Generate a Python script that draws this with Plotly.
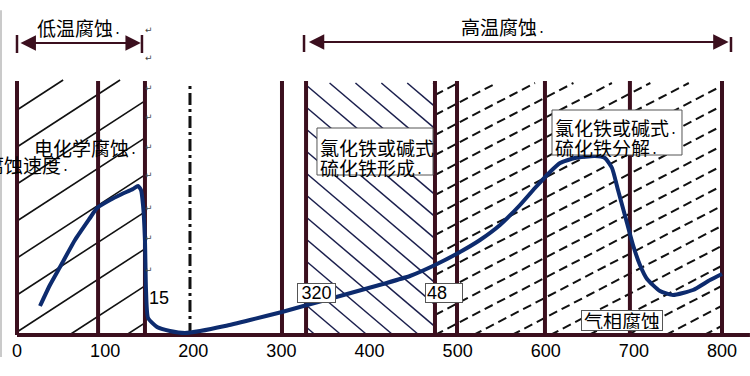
import math
import plotly.graph_objects as go

# ---------------- data ----------------
curve_temp = [26.1, 37.4, 48.8, 65.8, 82.8, 90.8, 105.5, 119.1, 131.6, 137.3, 140.7, 143.0,
              145.2, 146.4, 148.7, 158.9, 173.6, 190.6, 207.7, 236.0, 264.4, 300.7, 329.1,
              366.5, 415.3, 445.9, 474.3, 502.7, 525.4, 548.1, 570.8, 587.8, 604.8, 616.2,
              633.2, 655.9, 667.2, 675.2, 682.0, 692.2, 699.0, 706.9, 714.9, 729.6, 744.4,
              767.1, 786.4, 800.0]
curve_rate = [29, 50, 68, 95, 117, 127, 135, 141, 146, 149, 145, 130,
              95, 45, 17, 8, 4, 2, 4, 9, 15, 23, 30,
              39, 51, 59, 70, 83, 95, 110, 130, 147, 163, 172,
              177, 179, 177, 167, 145, 112, 90, 70, 56, 44, 40,
              45, 55, 61]

tick_vals = [0, 100, 200, 300, 400, 500, 600, 700, 800]
tick_text = ["0", "100", "200", "300", "400", "500", "600", "700", "800"]

solid_bounds = [0, 92, 145.2, 300.7, 328, 474.3, 499.3, 599.1, 695.5, 800]
dashdot_bounds = [196.3]

# ---------------- styles ----------------
MAROON = "#3b0f1e"
NAVY = "#0d2b6e"
CJK = "Noto Sans CJK SC"
NUM = "Liberation Sans"
PXU = 0.88125  # px per temperature unit
DOT = '<span style="font-size:9px">·</span>'


def hatch(x0, x1, y0, y1, m_px, spacing, c_start):
    m = m_px * PXU
    xs, ys = [], []
    if m > 0:
        cmin, cmax = y0 - m * (x1 - x0), y1
    else:
        cmin, cmax = y0, y1 - m * (x1 - x0)
    k0 = math.ceil((cmin - c_start) / spacing)
    k1 = math.floor((cmax - c_start) / spacing)
    for k in range(k0, k1 + 1):
        c = c_start + k * spacing
        xa = x0 + (y0 - c) / m
        xb = x0 + (y1 - c) / m
        lo = max(x0, min(xa, xb))
        hi = min(x1, max(xa, xb))
        if hi - lo < 0.5:
            continue
        xs += [lo, hi, None]
        ys += [c + m * (lo - x0), c + m * (hi - x0), None]
    return xs, ys


fig = go.Figure()

# hatch regions
hx, hy = hatch(0, 145.2, 0, 255, 0.65, 37, 225)
fig.add_trace(go.Scatter(x=hx, y=hy, mode="lines", line=dict(color="#111111", width=1.6),
                         hoverinfo="skip"))
hx, hy = hatch(328, 474.3, 0, 252, -0.85, 22, 118)
fig.add_trace(go.Scatter(x=hx, y=hy, mode="lines", line=dict(color="#1b1f4d", width=1.5),
                         hoverinfo="skip"))
hx, hy = hatch(474.3, 800, 0, 252, 0.52, 20, 0)
fig.add_trace(go.Scatter(x=hx, y=hy, mode="lines",
                         line=dict(color="#111111", width=2, dash="9px,5px"),
                         hoverinfo="skip"))

# vertical boundary lines
vx, vy = [], []
for b in solid_bounds:
    vx += [b, b, None]
    vy += [0, 254, None]
fig.add_trace(go.Scatter(x=vx, y=vy, mode="lines", line=dict(color=MAROON, width=4),
                         hoverinfo="skip"))
dx, dy = [], []
for b in dashdot_bounds:
    dx += [b, b, None]
    dy += [0, 250, None]
fig.add_trace(go.Scatter(x=dx, y=dy, mode="lines",
                         line=dict(color="#111111", width=3, dash="12px,4px,3px,4px"),
                         hoverinfo="skip"))

# baseline
fig.add_trace(go.Scatter(x=[0, 831.7], y=[0, 0], mode="lines",
                         line=dict(color=MAROON, width=4), hoverinfo="skip"))

# corrosion curve
fig.add_trace(go.Scatter(x=curve_temp, y=curve_rate, mode="lines",
                         line=dict(color=NAVY, width=4, shape="spline", smoothing=0.5),
                         hoverinfo="skip"))

ann = []


def text(x, y, s, size=19, family=CJK, **kw):
    d = dict(x=x, y=y, xref="x", yref="y", text=s, showarrow=False,
             font=dict(family=family, size=size, color="#000000"))
    d.update(kw)
    ann.append(d)


# top labels and arrows
text(70.4, 308, "低温腐蚀" + DOT)
text(552.6, 309, "高温腐蚀" + DOT)
for (xa, xb, yy) in [(2.3, 140.5, 292), (329.5, 807.5, 293)]:
    ann.append(dict(x=xb, y=yy, ax=xa, ay=yy, xref="x", yref="y", axref="x", ayref="y",
                    text="", showarrow=True, arrowhead=2, arrowside="end+start",
                    arrowsize=1.4, arrowwidth=2.2, arrowcolor=MAROON))

# side labels
text(78.3, 188, "电化学腐蚀" + DOT, height=21)
text(62.0, 171, "腐蚀速度" + DOT, xanchor="right", height=21)
text(161.1, 37, "15", size=18, family=NUM)

# boxed labels (multi-line boxes drawn as rectangles + separate lines)
shapes = []
for (x0, x1, y0, y1) in [(340.4, 472.1, 160, 207), (607.1, 754.6, 180, 225)]:
    shapes.append(dict(type="rect", xref="x", yref="y", x0=x0, x1=x1, y0=y0, y1=y1,
                       fillcolor="#ffffff", line=dict(color="#555555", width=1), layer="above"))
text(341.6, 188, "氯化铁或碱式", xanchor="left", height=20)
text(341.6, 168, "硫化铁形成" + DOT, xanchor="left", height=20)
text(608.2, 208, "氯化铁或碱式" + DOT, xanchor="left", height=20)
text(608.2, 188, "硫化铁分解" + DOT, xanchor="left", height=20)

box = dict(bgcolor="#ffffff", bordercolor="#555555", borderwidth=1, borderpad=1)
text(339.3, 42, "320", size=18, family=NUM, width=35, height=16, **box)
text(484.0, 42, "48", size=18, family=NUM, align="left", width=34, height=16, **box)
text(687.0, 15, "气相腐蚀", size=19, width=78, height=17, **box)

# word paragraph marks along the 150 line
for py in [30, 58, 88, 117, 147, 175, 208, 238, 270]:
    ann.append(dict(x=149.5, y=335 - py, xref="x", yref="y", text="↵", showarrow=False,
                    font=dict(family="DejaVu Sans", size=9, color="#444444")))

# arrow end bars
for (xx, y0, y1) in [(0, 282, 300), (141.8, 282, 300), (325.7, 283, 300), (810.2, 283, 298)]:
    shapes.append(dict(type="line", xref="x", yref="y", x0=xx, x1=xx, y0=y0, y1=y1,
                       line=dict(color=MAROON, width=2.5)))
# gray image border at left
shapes.append(dict(type="line", xref="paper", yref="paper", x0=-0.0149, x1=-0.0149,
                   y0=0.97, y1=-0.056, line=dict(color="#b8b8b8", width=1.5)))

fig.update_layout(
    width=750, height=376,
    margin=dict(l=12, r=0, t=0, b=38),
    paper_bgcolor="#ffffff", plot_bgcolor="#ffffff",
    showlegend=False,
    xaxis=dict(range=[-5.674, 831.77], showgrid=False, zeroline=False, showline=False,
               tickvals=tick_vals, ticktext=tick_text, ticks="",
               tickfont=dict(family=NUM, size=18, color="#000000")),
    yaxis=dict(range=[-3, 335], visible=False),
    annotations=ann,
    shapes=shapes,
)

fig.write_html("out.html", config={"displayModeBar": False},
               post_script="document.body.style.margin='0px';")
